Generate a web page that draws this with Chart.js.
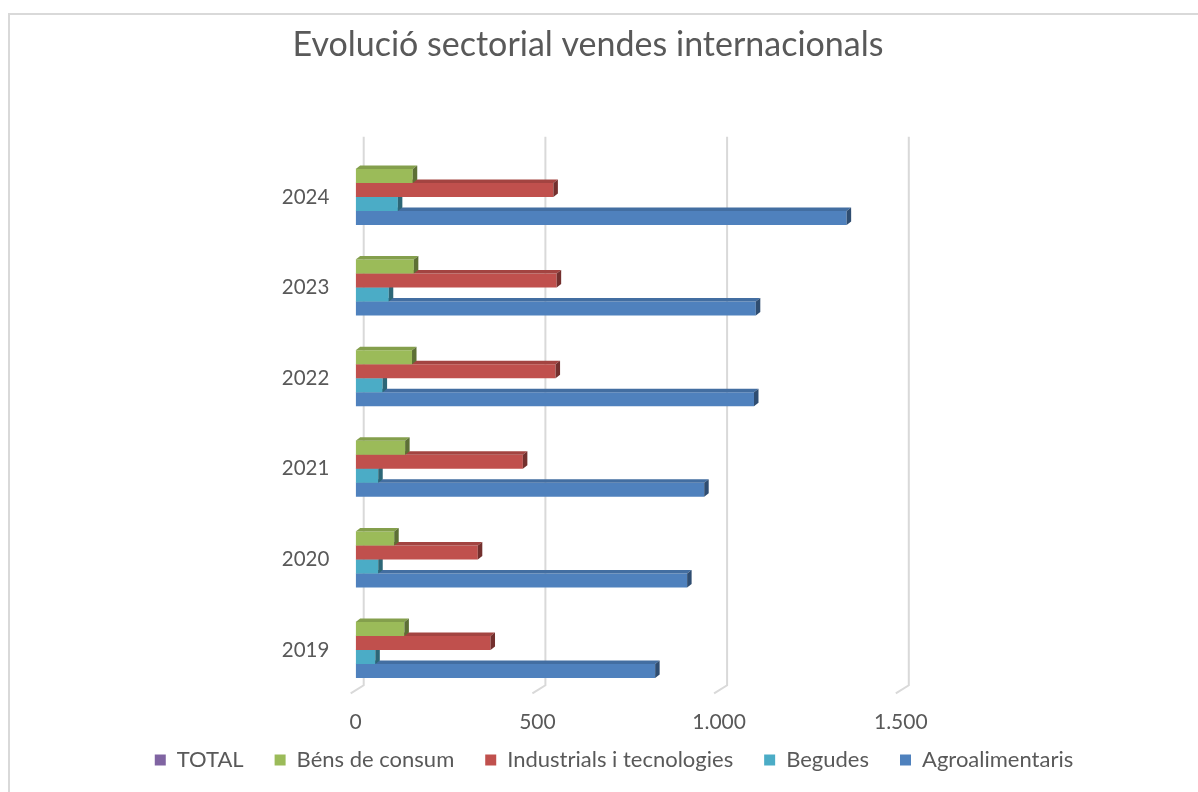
<!DOCTYPE html>
<html>
<head>
<meta charset="utf-8">
<title>Evolució sectorial vendes internacionals</title>
<script src="https://cdn.jsdelivr.net/npm/chart.js@4/dist/chart.umd.min.js"></script>
<style>
  html, body { margin: 0; padding: 0; background: #fff; }
  #wrap { position: relative; width: 1198px; height: 792px; overflow: hidden; }
</style>
</head>
<body>
<div id="wrap"><canvas id="chart" width="1198" height="792"></canvas></div>
<script>
// Evolució sectorial vendes internacionals (3D-style horizontal bars)

// categories, top to bottom as in the picture
const years = ['2024', '2023', '2022', '2021', '2020', '2019'];

// series values
const total = [null, null, null, null, null, null];
const bensConsum = [157, 160, 155, 136, 106, 134];
const industrials = [544, 553, 550, 460, 336, 371];
const begudes = [116, 91, 74, 62, 62, 54];
const agroalimentaris = [1351, 1101, 1096, 959, 912, 824];

// x axis ticks shown
const xTicks = [0, 500, 1000, 1500];

const FONT = 'Lato, "Open Sans", sans-serif';
const TEXT = '#595959';

function shade(hex, f) {
  const n = parseInt(hex.slice(1), 16);
  const r = Math.round(((n >> 16) & 255) * f);
  const g = Math.round(((n >> 8) & 255) * f);
  const b = Math.round((n & 255) * f);
  return `rgb(${r},${g},${b})`;
}

function fmtThousands(v) {
  return String(v).replace(/\B(?=(\d{3})+(?!\d))/g, '.');
}

// outer frame of the chart object
const framePlugin = {
  id: 'frame',
  beforeDraw(chart) {
    const ctx = chart.ctx;
    ctx.save();
    ctx.fillStyle = '#fff';
    ctx.fillRect(0, 0, chart.width, chart.height);
    ctx.strokeStyle = '#d9d9d9';
    ctx.lineWidth = 2;
    ctx.strokeRect(9, 14, chart.width + 20, chart.height + 20);
    ctx.restore();
  }
};

// back-wall gridlines with a little floor slant
const wallGridPlugin = {
  id: 'wallGrid',
  beforeDatasetsDraw(chart) {
    const { ctx, chartArea } = chart;
    const xs = chart.scales.x;
    ctx.save();
    ctx.strokeStyle = '#d9d9d9';
    ctx.lineWidth = 2;
    xs.ticks.forEach(t => {
      const px = xs.getPixelForValue(t.value);
      ctx.beginPath();
      ctx.moveTo(px + 8, chartArea.top - 15);
      ctx.lineTo(px + 8, chartArea.bottom - 10);
      ctx.lineTo(px - 5, chartArea.bottom - 2);
      ctx.stroke();
    });
    ctx.restore();
  }
};

// top and side faces for each bar, drawn right after its dataset
const bar3dPlugin = {
  id: 'bar3d',
  afterDatasetDraw(chart, args) {
    const meta = args.meta;
    if (!chart.isDatasetVisible(args.index)) return;
    const ds = chart.data.datasets[args.index];
    const ctx = chart.ctx;
    const dx = 4.5, dy = 3.5;
    ctx.save();
    meta.data.forEach((el, i) => {
      if (ds.data[i] == null) return;
      const p = el.getProps(['x', 'y', 'base', 'height'], true);
      const left = Math.min(p.base, p.x), right = Math.max(p.base, p.x);
      const top = p.y - p.height / 2, bottom = p.y + p.height / 2;
      // top face
      ctx.fillStyle = shade(ds.backgroundColor, 0.85);
      ctx.beginPath();
      ctx.moveTo(left, top);
      ctx.lineTo(left + dx, top - dy);
      ctx.lineTo(right + dx, top - dy);
      ctx.lineTo(right, top);
      ctx.closePath();
      ctx.fill();
      // side face
      ctx.fillStyle = shade(ds.backgroundColor, 0.6);
      ctx.beginPath();
      ctx.moveTo(right, top);
      ctx.lineTo(right + dx, top - dy);
      ctx.lineTo(right + dx, bottom - dy);
      ctx.lineTo(right, bottom);
      ctx.closePath();
      ctx.fill();
    });
    ctx.restore();
  }
};

// nudge the legend row to where it sits in the original
const legendShiftPlugin = {
  id: 'legendShift',
  afterLayout(chart) {
    if (chart.legend) {
      chart.legend.left += 26;
      chart.legend.right += 26;
    }
  }
};

new Chart(document.getElementById('chart'), {
  type: 'bar',
  data: {
    labels: years,
    datasets: [
      { label: 'TOTAL', data: total, backgroundColor: '#8064a2' },
      { label: 'Béns de consum', data: bensConsum, backgroundColor: '#9bbb59' },
      { label: 'Industrials i tecnologies', data: industrials, backgroundColor: '#c0504d' },
      { label: 'Begudes', data: begudes, backgroundColor: '#4bacc6' },
      { label: 'Agroalimentaris', data: agroalimentaris, backgroundColor: '#4f81bd' }
    ]
  },
  options: {
    indexAxis: 'y',
    responsive: false,
    animation: false,
    devicePixelRatio: 1,
    layout: { padding: { left: 0, right: 22, top: 0, bottom: 11 } },
    datasets: {
      bar: { categoryPercentage: 0.618, barPercentage: 1, skipNull: true, borderWidth: 0 }
    },
    scales: {
      x: {
        min: 0,
        max: 2000,
        grid: { display: false, drawTicks: false },
        border: { display: false },
        ticks: {
          stepSize: 500,
          color: TEXT,
          font: { family: FONT, size: 21 },
          padding: 14,
          callback: v => fmtThousands(v)
        },
        afterBuildTicks: s => { s.ticks = xTicks.map(v => ({ value: v })); },
        afterFit: s => {
          s.height = 22.7;
          // labels hang below the thin axis box, so don't clip them to it
          s._computeLabelArea = () => undefined;
        }
      },
      y: {
        grid: { display: false, drawTicks: false },
        border: { display: false },
        ticks: { color: TEXT, font: { family: FONT, size: 20.5 }, padding: 26.4 },
        afterFit: s => { s.width = 355.7; }
      },
      y2: {
        position: 'right',
        grid: { display: false, drawTicks: false },
        border: { display: false },
        ticks: { display: false },
        afterFit: s => { s.width = 93.5; }
      }
    },
    plugins: {
      title: {
        display: true,
        text: 'Evolució sectorial vendes internacionals',
        color: TEXT,
        font: { family: FONT, size: 34, weight: 'normal' },
        padding: { top: 24.6, bottom: 86.3 }
      },
      legend: {
        position: 'bottom',
        labels: {
          color: TEXT,
          font: { family: FONT, size: 22 },
          boxWidth: 11,
          boxHeight: 11,
          padding: 31
        }
      },
      tooltip: { enabled: false }
    }
  },
  plugins: [framePlugin, wallGridPlugin, bar3dPlugin, legendShiftPlugin]
});
</script>
</body>
</html>
